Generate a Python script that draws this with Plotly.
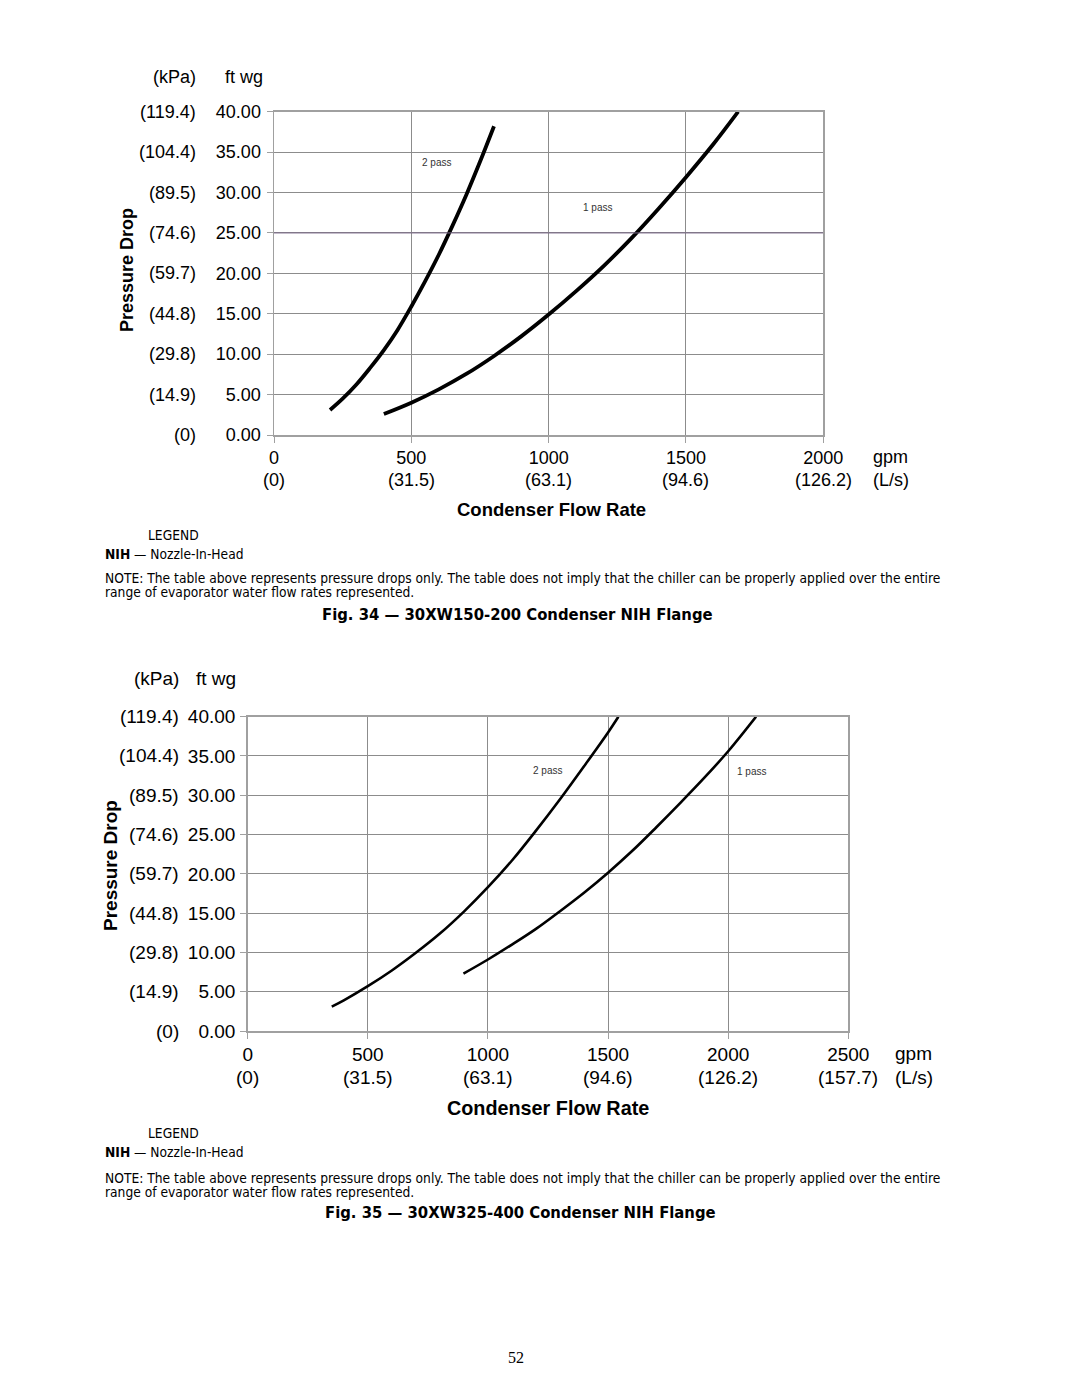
import plotly.graph_objects as go

W, H = 1080, 1397

# ---------------- data ----------------
ft_ticks = [0, 5, 10, 15, 20, 25, 30, 35, 40]
ft_labels = ["0.00", "5.00", "10.00", "15.00", "20.00", "25.00", "30.00", "35.00", "40.00"]
kpa_labels = ["(0)", "(14.9)", "(29.8)", "(44.8)", "(59.7)", "(74.6)", "(89.5)", "(104.4)", "(119.4)"]

fig34_gpm_ticks = [0, 500, 1000, 1500, 2000]
fig34_ls_labels = ["(0)", "(31.5)", "(63.1)", "(94.6)", "(126.2)"]
fig35_gpm_ticks = [0, 500, 1000, 1500, 2000, 2500]
fig35_ls_labels = ["(0)", "(31.5)", "(63.1)", "(94.6)", "(126.2)", "(157.7)"]

# Fig. 34 (30XW150-200)
fig34_2pass_gpm = [204, 250, 300, 350, 400, 450, 500, 550, 600, 650, 700, 750, 801]
fig34_2pass_ft = [3.1, 4.5, 6.25, 8.3, 10.5, 13.0, 15.9, 19.0, 22.3, 25.9, 29.7, 33.8, 38.2]
fig34_1pass_gpm = [400, 500, 600, 700, 800, 900, 1000, 1100, 1200, 1300, 1400, 1500, 1600, 1690]
fig34_1pass_ft = [2.6, 4.0, 5.65, 7.55, 9.75, 12.2, 14.9, 17.8, 20.9, 24.3, 28.0, 31.9, 36.0, 40.0]

# Fig. 35 (30XW325-400)
fig35_2pass_gpm = [350, 400, 500, 600, 700, 800, 900, 1000, 1100, 1200, 1300, 1400, 1500, 1543]
fig35_2pass_ft = [3.1, 3.9, 5.7, 7.7, 9.95, 12.4, 15.2, 18.3, 21.7, 25.5, 29.5, 33.7, 38.0, 40.0]
fig35_1pass_gpm = [898, 1000, 1100, 1200, 1300, 1400, 1500, 1600, 1700, 1800, 1900, 2000, 2116]
fig35_1pass_ft = [7.3, 9.1, 11.0, 13.0, 15.25, 17.6, 20.15, 22.9, 25.9, 29.0, 32.2, 35.6, 40.0]

SANS = "Liberation Sans, Arial, sans-serif"
NARROW = "Liberation Sans Narrow, DejaVu Sans Condensed, Liberation Sans, sans-serif"
SERIF = "Liberation Serif, Times New Roman, serif"
GRID = "#8c8c8c"
BORDER = "#a0a0a0"


def px(x):
    return x / W


def py(y):
    return 1 - y / H


fig = go.Figure()

for gx, gy, w, xa, ya in [(fig34_2pass_gpm, fig34_2pass_ft, 3.8, "x", "y"),
                          (fig34_1pass_gpm, fig34_1pass_ft, 3.8, "x", "y"),
                          (fig35_2pass_gpm, fig35_2pass_ft, 2.6, "x2", "y2"),
                          (fig35_1pass_gpm, fig35_1pass_ft, 2.6, "x2", "y2")]:
    fig.add_trace(go.Scatter(x=gx, y=gy, mode="lines",
                             line=dict(color="black", width=w, shape="spline", smoothing=1.0),
                             xaxis=xa, yaxis=ya, showlegend=False, hoverinfo="skip"))


def axis(size, standoff, **kw):
    d = dict(showgrid=True, gridcolor=GRID, gridwidth=1, zeroline=False,
             showline=True, linecolor=BORDER, linewidth=1.5, mirror=True,
             ticks="outside", ticklen=6, tickcolor=BORDER,
             tickfont=dict(family=SANS, size=size, color="black"),
             ticklabelstandoff=standoff)
    d.update(kw)
    return d


fig.update_layout(
    width=W, height=H, margin=dict(l=0, r=0, t=0, b=0, autoexpand=False),
    paper_bgcolor="white", plot_bgcolor="white",
    xaxis=axis(18, 0, domain=[px(274), px(823.3)], range=[0, 2000], tickvals=fig34_gpm_ticks,
               ticktext=[str(v) for v in fig34_gpm_ticks], anchor="y"),
    yaxis=axis(18, 2, domain=[py(435), py(111.7)], range=[0, 40], tickvals=ft_ticks,
               ticktext=ft_labels, anchor="x"),
    xaxis2=axis(19, 0, domain=[px(247.7), px(848.3)], range=[0, 2500], tickvals=fig35_gpm_ticks,
                ticktext=[str(v) for v in fig35_gpm_ticks], anchor="y2"),
    yaxis2=axis(19, 1, domain=[py(1031), py(716.7)], range=[0, 40], tickvals=ft_ticks,
                ticktext=ft_labels, anchor="x2"),
)

# purple-tinted 25 line in fig 34
fig.add_shape(type="line", xref="x", yref="y", x0=0, x1=2000, y0=25, y1=25,
              line=dict(color="#7a6888", width=1))

ann = []


def A(text, x, y, size, xanchor="center", family=SANS, xref="paper", yref="paper", bold=False, textangle=0,
      color="black"):
    if bold:
        text = "<b>" + text + "</b>"
    ann.append(dict(text=text, x=x, y=y, xref=xref, yref=yref, xanchor=xanchor, yanchor="middle",
                    showarrow=False, font=dict(family=family, size=size, color=color), textangle=textangle))


NOTE1 = "NOTE: The table above represents pressure drops only. The table does not imply that the chiller can be properly applied over the entire"
NOTE2 = "range of evaporator water flow rates represented."

# ---- Fig 34 texts ----
for v, lab in zip(ft_ticks, kpa_labels):
    A(lab, px(198), v, 18, xanchor="right", yref="y")
A("(kPa)", px(198), py(77), 18, xanchor="right")
A("ft wg", px(223), py(77), 18, xanchor="left")
A("Pressure Drop", px(127), py(270), 18, bold=True, textangle=-90)
for v, lab in zip(fig34_gpm_ticks, fig34_ls_labels):
    A(lab, v, py(480), 18, xref="x")
A("gpm", px(871), py(457), 18, xanchor="left")
A("(L/s)", px(871), py(480), 18, xanchor="left")
A("Condenser Flow Rate", px(551), py(509), 18.5, bold=True)
A("2 pass", 590, 33.7, 10, xref="x", yref="y", color="#333")
A("1 pass", 1178, 28.1, 10, xref="x", yref="y", color="#333")

A("LEGEND", px(146), py(535), 13.7, xanchor="left", family=NARROW)
A("<b>NIH</b> — Nozzle-In-Head", px(103), py(554), 13.7, xanchor="left", family=NARROW)
A(NOTE1, px(103), py(578), 13.7, xanchor="left", family=NARROW)
A(NOTE2, px(103), py(592), 13.7, xanchor="left", family=NARROW)
A("Fig. 34 — 30XW150-200 Condenser NIH Flange", px(517), py(615), 16.5, bold=True, family=NARROW)

# ---- Fig 35 texts ----
for v, lab in zip(ft_ticks, kpa_labels):
    A(lab, px(181), v, 19, xanchor="right", yref="y2")
A("(kPa)", px(181), py(678), 19, xanchor="right")
A("ft wg", px(194), py(678), 19, xanchor="left")
A("Pressure Drop", px(110), py(866), 19, bold=True, textangle=-90)
for v, lab in zip(fig35_gpm_ticks, fig35_ls_labels):
    A(lab, v, py(1077), 19, xref="x2")
A("gpm", px(893), py(1053), 19, xanchor="left")
A("(L/s)", px(893), py(1077), 19, xanchor="left")
A("Condenser Flow Rate", px(548), py(1108), 19.8, bold=True)
A("2 pass", 1249, 33.1, 10, xref="x2", yref="y2", color="#333")
A("1 pass", 2098, 33.0, 10, xref="x2", yref="y2", color="#333")

A("LEGEND", px(146), py(1133), 13.7, xanchor="left", family=NARROW)
A("<b>NIH</b> — Nozzle-In-Head", px(103), py(1152), 13.7, xanchor="left", family=NARROW)
A(NOTE1, px(103), py(1178), 13.7, xanchor="left", family=NARROW)
A(NOTE2, px(103), py(1192), 13.7, xanchor="left", family=NARROW)
A("Fig. 35 — 30XW325-400 Condenser NIH Flange", px(520), py(1212), 16.5, bold=True, family=NARROW)

A("52", px(516), py(1357), 16, family=SERIF)

fig.update_layout(annotations=ann)
fig.write_html("out.html", config={"displayModeBar": False, "staticPlot": True},
               post_script="document.body.style.margin='0';document.body.style.overflow='hidden';")
